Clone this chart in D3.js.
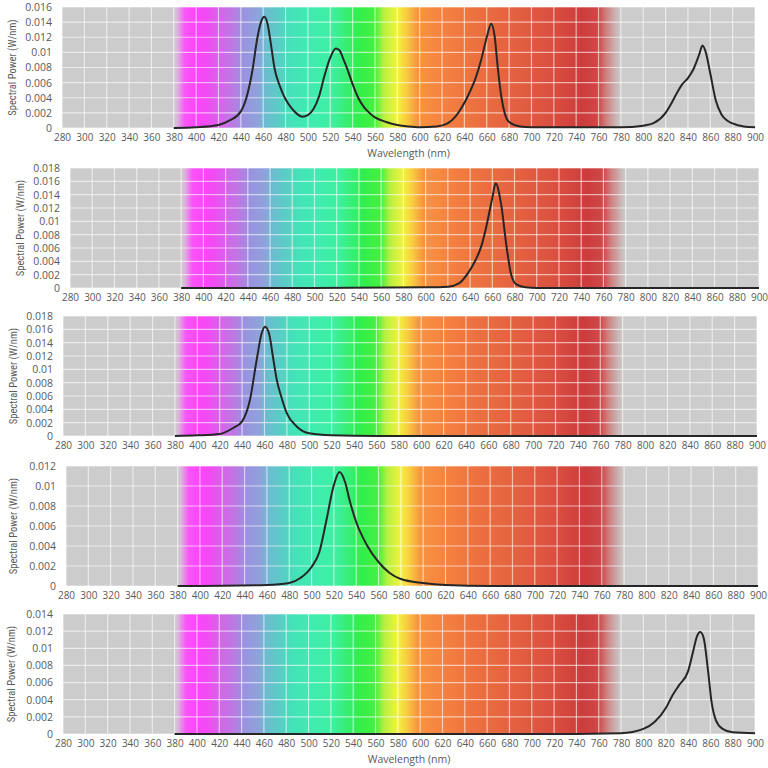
<!DOCTYPE html>
<html><head><meta charset="utf-8">
<script src="https://cdn.jsdelivr.net/npm/d3@7"></script>
<style>body{margin:0;background:#fff}svg{display:block}</style>
</head><body><svg id="chart" width="768" height="768"></svg>
<script>
// ---------- DATA ----------
const xTicks = [280,300,320,340,360,380,400,420,440,460,480,500,520,540,560,580,600,620,640,660,680,700,720,740,760,780,800,820,840,860,880,900];
const yTicks12 = [0,0.002,0.004,0.006,0.008,0.01,0.012];
const yTicks14 = [0,0.002,0.004,0.006,0.008,0.01,0.012,0.014];
const yTicks16 = [0,0.002,0.004,0.006,0.008,0.01,0.012,0.014,0.016];
const yTicks18 = [0,0.002,0.004,0.006,0.008,0.01,0.012,0.014,0.016,0.018];

// Full-spectrum LED (blue + green + red + NIR)
const fullWl  = [380,400,420,430,440,445,450,455,458,461,464,467,470,475,480,485,490,495,500,505,510,515,520,525,528,532,536,540,545,550,555,560,570,580,590,600,615,625,632,638,644,650,655,660,664,667,670,673,676,680,690,700,780,800,810,820,825,830,835,840,845,850,853,856,860,865,870,875,880,890,900];
const fullVal = [0.0000,0.0001,0.0004,0.0010,0.0022,0.0040,0.0073,0.0121,0.0140,0.0147,0.0137,0.0110,0.0080,0.0055,0.0038,0.0027,0.0019,0.0015,0.0017,0.0025,0.0042,0.0070,0.0093,0.0105,0.0103,0.0090,0.0075,0.0058,0.0040,0.0028,0.0020,0.0014,0.0008,0.0004,0.0002,0.0001,0.0002,0.0006,0.0015,0.0028,0.0045,0.0066,0.0090,0.0120,0.0138,0.0122,0.0078,0.0042,0.0020,0.0008,0.0002,0.0001,0.0001,0.0003,0.0007,0.0020,0.0032,0.0046,0.0058,0.0066,0.0078,0.0097,0.0109,0.0100,0.0072,0.0036,0.0018,0.0010,0.0006,0.0002,0.0001];

// Red LED
const redWl  = [380,500,600,620,630,638,645,650,655,660,663,668,673,677,682,690,700,900];
const redVal = [0,0,0.0001,0.0002,0.0007,0.0022,0.0042,0.0062,0.0095,0.0135,0.0157,0.0125,0.0060,0.0020,0.0005,0.0001,0,0];

// Blue LED
const blueWl  = [380,400,420,432,440,447,453,457.5,460.5,464,468,471,475,480,489,500,520,560,900];
const blueVal = [0,0.0001,0.0003,0.0012,0.0022,0.0054,0.0114,0.0154,0.0164,0.0154,0.0114,0.0084,0.0059,0.0034,0.0014,0.0004,0.0001,0,0];

// Green LED
const greenWl  = [380,460,480,490,500,507,513,520,525,530,534.5,540,549.5,560,570,580,600,620,660,900];
const greenVal = [0,0.0001,0.0003,0.0008,0.0019,0.0034,0.0064,0.0101,0.0114,0.0104,0.0084,0.0064,0.0041,0.0024,0.0013,0.0007,0.0003,0.0001,0,0];

// NIR LED
const nirWl  = [380,700,780,800,810,820,826,832,840,844.5,848,851,854,858,861,865,871,880,900];
const nirVal = [0,0,0.0001,0.0006,0.0014,0.0030,0.0045,0.0057,0.0073,0.0096,0.0114,0.0119,0.0112,0.0073,0.0038,0.0016,0.0006,0.0002,0.0001];

// ---------- STYLE ----------
const spectrumStops = [
  [280,"#cccccc"],[380,"#cccccc"],[383,"#dab8da"],[390,"#f855f8"],[400,"#fc45fc"],[410,"#f04cf2"],
  [420,"#d862ea"],[432,"#bd78e2"],[442,"#9a92e0"],[455,"#8fa2da"],[462,"#6cbcd0"],[475,"#58cec4"],
  [485,"#44e2b8"],[505,"#40ecae"],[522,"#3cf0a0"],[532,"#38ee7c"],[545,"#32ee4c"],[560,"#46f040"],
  [568,"#b8f040"],[580,"#f2f23e"],[588,"#f8cc40"],[598,"#f89440"],[620,"#f58240"],[650,"#ec7040"],
  [690,"#e25e40"],[720,"#da4e40"],[745,"#cc3c3c"],[760,"#cf4848"],[767,"#d08080"],[775,"#cbb2b2"],
  [780,"#cccccc"],[900,"#cccccc"]
];

const panels = [
  {wl: fullWl,  val: fullVal,  yTicks: yTicks16, left:62, right:755, top:7,   bottom:128, titleX:12, xTitle:true},
  {wl: redWl,   val: redVal,   yTicks: yTicks18, left:70, right:759, top:168, bottom:288, titleX:20, xTitle:false},
  {wl: blueWl,  val: blueVal,  yTicks: yTicks18, left:63, right:757, top:316, bottom:436, titleX:13, xTitle:false},
  {wl: greenWl, val: greenVal, yTicks: yTicks12, left:66, right:758, top:466, bottom:586, titleX:13, xTitle:false},
  {wl: nirWl,   val: nirVal,   yTicks: yTicks14, left:63, right:755, top:614, bottom:734, titleX:11, xTitle:true}
];

const svg = d3.select("#chart");
svg.append("rect").attr("width",768).attr("height",768).attr("fill","#ffffff");
const defs = svg.append("defs");
const grad = defs.append("linearGradient").attr("id","spec")
  .attr("x1","0").attr("x2","1").attr("y1","0").attr("y2","0");
grad.selectAll("stop").data(spectrumStops).join("stop")
  .attr("offset", d => ((d[0]-280)/(900-280)*100) + "%")
  .attr("stop-color", d => d[1]);

const txtColor = "#5a5a5a";

panels.forEach((p, i) => {
  const yMax = p.yTicks[p.yTicks.length-1];
  const x = d3.scaleLinear().domain([280,900]).range([p.left,p.right]);
  const y = d3.scaleLinear().domain([0,yMax]).range([p.bottom,p.top]);
  const g = svg.append("g");

  g.append("rect").attr("x",x(280)).attr("y",y(yMax))
    .attr("width",x(900)-x(280)).attr("height",y(0)-y(yMax))
    .attr("fill","url(#spec)");

  // grid
  g.append("g").selectAll("line").data(xTicks).join("line")
    .attr("x1",d=>x(d)).attr("x2",d=>x(d)).attr("y1",y(0)).attr("y2",y(yMax))
    .attr("stroke","#ffffff").attr("stroke-opacity",0.6).attr("stroke-width",1.2);
  g.append("g").selectAll("line").data(p.yTicks).join("line")
    .attr("x1",x(280)).attr("x2",x(900)).attr("y1",d=>y(d)).attr("y2",d=>y(d))
    .attr("stroke","#ffffff").attr("stroke-opacity",0.6).attr("stroke-width",1.2);

  // axes
  const xa = g.append("g").attr("transform",`translate(0,${p.bottom})`)
    .call(d3.axisBottom(x).tickValues(xTicks).tickSize(0).tickPadding(6).tickFormat(d3.format("d")));
  xa.select(".domain").remove();
  xa.selectAll("text").attr("fill",txtColor).style("font-family","'Open Sans', sans-serif").style("font-size","10px");

  const ya = g.append("g").attr("transform",`translate(${p.left},0)`)
    .call(d3.axisLeft(y).tickValues(p.yTicks).tickSize(0).tickPadding(10).tickFormat(d => String(d)));
  ya.select(".domain").remove();
  ya.selectAll("text").attr("fill",txtColor).style("font-family","'Open Sans', sans-serif").style("font-size","10.5px");

  // y title
  g.append("text")
    .attr("transform",`translate(${p.titleX},${(p.top+p.bottom)/2}) rotate(-90)`)
    .attr("text-anchor","middle").attr("dy","0.35em")
    .attr("fill",txtColor)
    .style("font-family","'Liberation Sans Narrow', 'Roboto Condensed', 'DejaVu Sans Condensed', sans-serif")
    .style("font-size","10.5px")
    .text("Spectral Power (W/nm)");

  if (p.xTitle) {
    g.append("text").attr("x",(p.left+p.right)/2).attr("y",p.bottom+25)
      .attr("text-anchor","middle").attr("dy","0.35em").attr("fill",txtColor)
      .style("font-family","'Open Sans', sans-serif").style("font-size","10.5px")
      .text("Wavelength (nm)");
  }

  // curve
  const pts = p.wl.map((w,k) => [w, p.val[k]]);
  const line = d3.line().x(d=>x(d[0])).y(d=>y(d[1])).curve(d3.curveMonotoneX);
  g.append("path").datum(pts).attr("d",line)
    .attr("fill","none").attr("stroke","#262626").attr("stroke-width",2)
    .attr("stroke-linejoin","round");
});
</script>
</body></html>
